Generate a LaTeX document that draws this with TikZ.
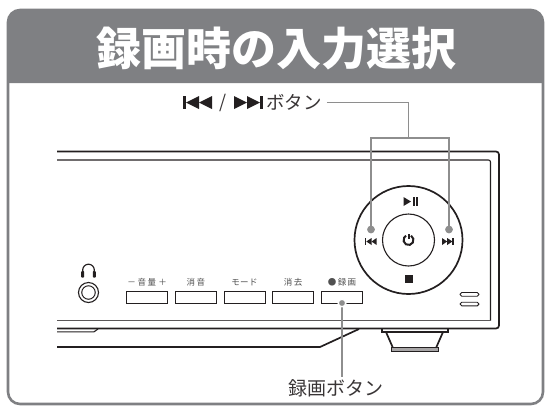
\documentclass[tikz,border=0pt]{standalone}
\usepackage{fontspec}
\newfontfamily\jp{Noto Sans CJK JP}
\definecolor{framegray}{HTML}{7F8083}
\definecolor{leadgray}{HTML}{8E8E8E}
\definecolor{ink}{HTML}{231F20}
\definecolor{labgray}{HTML}{505050}
\tikzset{
  devline/.style={draw=ink, line width=1.7pt},
  devthin/.style={draw=ink, line width=1.1pt},
  leader/.style={draw=leadgray, line width=1.6pt},
  btn/.style={draw=ink, line width=1pt, minimum width=41pt, minimum height=12pt, inner sep=0pt},
  btnlabel/.style={font=\jp\fontsize{8.5}{9}\selectfont, text=labgray, inner sep=0pt},
  pointdot/.style={circle, fill=leadgray, minimum size=7.5pt, inner sep=0pt},
  calltext/.style={font=\jp\fontsize{19}{19}\selectfont, text=ink!90, inner sep=2pt},
}
\begin{document}
\begin{tikzpicture}[x=1pt,y=-1pt]
\useasboundingbox (0,0) rectangle (545,408);

% header band and outer frame
\fill[framegray] (8,83) [rounded corners=12pt] -- (8,10) -- (543,10) [sharp corners] -- (543,83) -- cycle;
\draw[framegray, line width=2.6pt, rounded corners=12pt] (8,10) rectangle (543,404);
\node[font=\jp\bfseries\fontsize{45}{45}\selectfont, text=white, inner sep=0pt] (title) at (276,49) {録画時の入力選択};

% recorder body
\draw[devline, rounded corners=3pt] (57,151.5) -- (499,151.5) -- (499,328.5) -- (57,328.5);
\draw[devthin, rounded corners=2pt] (57,160) -- (490.5,160) -- (490.5,320.5);
\draw[draw=ink!75, line width=0.9pt] (57,320.5) -- (490.5,320.5);
\draw[devthin] (57,331.8) -- (94,331.8) -- (98,329);
\draw[devline] (57,347) -- (320,347) -- (359,329);

% foot
\draw[devthin] (382,329) -- (382,332) -- (448,332) -- (448,329);
\draw[devline] (386,332) -- (393,348);
\draw[devline] (443,332) -- (436,348);
\draw[draw=ink, line width=0.9pt, fill=ink!40] (391,347) rectangle (438,351.5);

% jog wheel
\node[circle, draw=ink, line width=1.7pt, minimum size=108pt, inner sep=0pt] (wheel) at (408.5,240) {};
\node[circle, draw=ink, line width=1.1pt, minimum size=52pt, inner sep=0pt] (hub) at (408.5,240) {};
% play / pause
\fill[ink] (403.5,197) -- (411,201.5) -- (403.5,206) -- cycle;
\fill[ink] (412.5,197) rectangle (414.5,206);
\fill[ink] (416,197) rectangle (418,206);
% power
\draw[ink, line width=2pt] (408.5,240) ++(300:5) arc (300:600:5);
\draw[ink, line width=2pt] (408.5,239) -- (408.5,233.5);
% stop
\fill[ink] (404.5,274.5) rectangle (412.5,282.5);
% skip back
\fill[ink] (364.5,238) rectangle (366.3,245);
\fill[ink] (366.3,241.5) -- (371.5,238) -- (371.5,245) -- cycle;
\fill[ink] (371.5,241.5) -- (376.7,238) -- (376.7,245) -- cycle;
% skip forward
\fill[ink] (442,238) -- (447.2,241.5) -- (442,245) -- cycle;
\fill[ink] (447.2,238) -- (452.4,241.5) -- (447.2,245) -- cycle;
\fill[ink] (452.4,238) rectangle (454.2,245);

% headphone jack
\draw[ink, line width=1.2pt] (82.7,272) -- (82.7,270) arc (180:360:5.8) -- (94.3,272);
\fill[ink, rounded corners=0.8pt] (81.2,271) rectangle (84.2,277.5);
\fill[ink, rounded corners=0.8pt] (92.8,271) rectangle (95.8,277.5);
\node[circle, draw=ink, line width=1.1pt, minimum size=20pt, inner sep=0pt] (jack) at (88.5,292.5) {};
\node[circle, draw=ink, line width=1pt, minimum size=13.5pt, inner sep=0pt] (jackin) at (88.5,292.5) {};

% front buttons
\node[btn] (bvol) at (147,297.3) {};
\node[btn] (bmute) at (195.8,297.3) {};
\node[btn] (bmode) at (244.5,297.3) {};
\node[btn] (bclear) at (293.2,297.3) {};
\node[btn, line width=1.5pt] (brec) at (342,297.3) {};
\node[btnlabel] (lvol) at (147,282.5) {－\hspace{2pt}音\hspace{1.5pt}量\hspace{2pt}＋};
\node[btnlabel] (lmute) at (195.8,282.5) {消\hspace{1.5pt}音};
\node[btnlabel] (lmode) at (244.5,282.5) {モ\hspace{0.5pt}ー\hspace{0.5pt}ド};
\node[btnlabel] (lclear) at (293.2,282.5) {消\hspace{1.5pt}去};
\node[btnlabel] (lrec) at (342,282.5) {●\hspace{1.5pt}録\hspace{1.5pt}画};

% status slots
\draw[devthin, line width=0.9pt, rounded corners=1.8pt] (460,292.5) rectangle (479,296.2);
\draw[devthin, line width=0.9pt, rounded corners=1.8pt] (460,302.2) rectangle (479,305.9);

% callout: skip buttons
\fill[ink] (183,96) rectangle (186,109);
\fill[ink] (186,102.5) -- (199,96) -- (199,109) -- cycle;
\fill[ink] (199,102.5) -- (212,96) -- (212,109) -- cycle;
\node[calltext, font=\jp\fontsize{18}{18}\selectfont] (slash) at (223,102.5) {/};
\fill[ink] (234,96) -- (247,102.5) -- (234,109) -- cycle;
\fill[ink] (247,96) -- (260,102.5) -- (247,109) -- cycle;
\fill[ink] (260,96) rectangle (263,109);
\node[calltext, font=\jp\fontsize{18.5}{18.5}\selectfont, anchor=west] (skiptxt) at (264,102.5) {ボタン};
\coordinate (fork) at (408.5,138);
\node[pointdot] (dotL) at (371,229.5) {};
\node[pointdot] (dotR) at (449,229.5) {};
\draw[leader] ([xshift=3pt]skiptxt.east) -| (fork);
\draw[leader] (dotL) |- (fork) -| (dotR);
\node[pointdot] at (dotL) {};
\node[pointdot] at (dotR) {};

% callout: record button
\node[calltext] (rectxt) at (336,388) {録画ボタン};
\node[pointdot, draw=white, line width=1.3pt] (recdot) at (342,303) {};
\draw[leader] (recdot) -- (recdot |- rectxt.north);
\node[pointdot, draw=white, line width=1.3pt] at (recdot) {};
\end{tikzpicture}
\end{document}
